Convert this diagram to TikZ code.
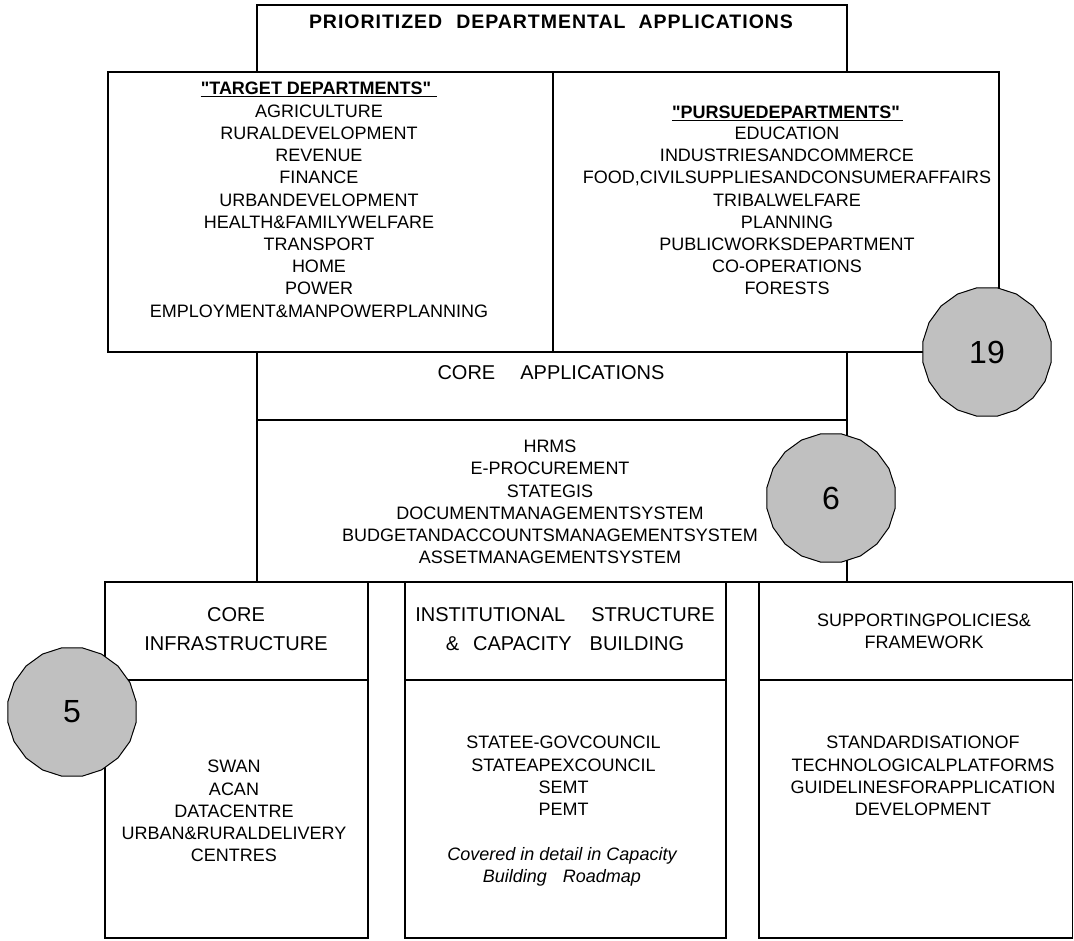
\documentclass[tikz,border=0pt]{standalone}
\usepackage{fontspec}
\setmainfont{Liberation Sans}
\usetikzlibrary{shapes.geometric}
\definecolor{badgegray}{RGB}{192,192,192}

\begin{document}
\begin{tikzpicture}[x=1pt,y=-1pt,
  box/.style={draw=black, line width=1.3pt, fill=white},
  body/.style={font=\fontsize{18}{22.2}\selectfont, align=center, inner sep=0pt},
  bighead/.style={font=\fontsize{20}{29}\selectfont, align=center, inner sep=0pt},
  boldhead/.style={font=\fontsize{18}{22}\selectfont\bfseries, inner sep=0pt},
  badge/.style={regular polygon, regular polygon sides=20, minimum size=130pt,
    inner sep=0pt, draw=black, line width=1pt, fill=badgegray,
    font=\fontsize{32}{32}\selectfont},
]
\useasboundingbox (0,0) rectangle (1074,941);

% outer frame: prioritized applications down to the core applications header
\draw[box] (257,5) rectangle (847,420);
% target and pursue department panels
\draw[box] (108,72) rectangle (553,352);
\draw[box] (553,72) rectangle (999,352);
% core applications list
\draw[box] (257,420) rectangle (847,582);
% three supporting pillars
\draw[box] (105,582) rectangle (368,938);
\draw[line width=1.3pt] (105,680) -- (368,680);
\draw[box] (405,582) rectangle (726,938);
\draw[line width=1.3pt] (405,680) -- (726,680);
\draw[box] (759,582) rectangle (1072.5,938);
\draw[line width=1.3pt] (759,680) -- (1072.5,680);

% titles
\node[boldhead, font=\fontsize{19.5}{22}\selectfont\bfseries\addfontfeature{LetterSpace=5}] (title) at (551,22)
  {PRIORITIZED\hspace{14pt}DEPARTMENTAL\hspace{13pt}APPLICATIONS};

\node[boldhead] (thead) at (316,88) {\textquotedbl TARGET DEPARTMENTS\textquotedbl};
\draw[line width=1.2pt] ([yshift=-2pt]thead.base west) -- ([yshift=-2pt,xshift=6pt]thead.base east);
\node[body] (tlist) at (319,211) {AGRICULTURE\\RURALDEVELOPMENT\\REVENUE\\FINANCE\\URBANDEVELOPMENT\\
  HEALTH\&FAMILYWELFARE\\TRANSPORT\\HOME\\POWER\\EMPLOYMENT\&MANPOWERPLANNING};

\node[boldhead] (phead) at (786,112) {\textquotedbl PURSUEDEPARTMENTS\textquotedbl};
\draw[line width=1.2pt] ([yshift=-2pt]phead.base west) -- ([yshift=-2pt,xshift=3pt]phead.base east);
\node[body] (plist) at (787,211) {EDUCATION\\INDUSTRIESANDCOMMERCE\\FOOD,CIVILSUPPLIESANDCONSUMERAFFAIRS\\
  TRIBALWELFARE\\PLANNING\\PUBLICWORKSDEPARTMENT\\CO-OPERATIONS\\FORESTS};

\node[bighead] (cahead) at (551,373) {CORE\hspace{25pt}APPLICATIONS};
\node[body] (calist) at (550,502) {HRMS\\E-PROCUREMENT\\STATEGIS\\DOCUMENTMANAGEMENTSYSTEM\\
  BUDGETANDACCOUNTSMANAGEMENTSYSTEM\\ASSETMANAGEMENTSYSTEM};

\node[bighead] (cihead) at (236,629.5) {CORE\\INFRASTRUCTURE};
\node[body] (cilist) at (234,811) {SWAN\\ACAN\\DATACENTRE\\URBAN\&RURALDELIVERY\\CENTRES};

\node[bighead] (ishead) at (565,629.5) {INSTITUTIONAL\hspace{26pt}STRUCTURE\\
  \&\hspace{14pt}CAPACITY\hspace{18pt}BUILDING};
\node[body] (islist) at (563.5,776) {STATEE-GOVCOUNCIL\\STATEAPEXCOUNCIL\\SEMT\\PEMT};
\node[body, font=\fontsize{18}{22}\selectfont\itshape] (isnote) at (562,867)
  {Covered in detail in Capacity\\Building\hspace{16pt}Roadmap};

\node[body] (sphead) at (924,631) {SUPPORTINGPOLICIES\&\\FRAMEWORK};
\node[body] (splist) at (923,776) {STANDARDISATIONOF\\TECHNOLOGICALPLATFORMS\\
  GUIDELINESFORAPPLICATION\\DEVELOPMENT};

% count badges
\node[badge] (n19) at (987,352) {19};
\node[badge] (n6) at (831,498) {6};
\node[badge] (n5) at (72,712) {5};
\end{tikzpicture}
\end{document}
